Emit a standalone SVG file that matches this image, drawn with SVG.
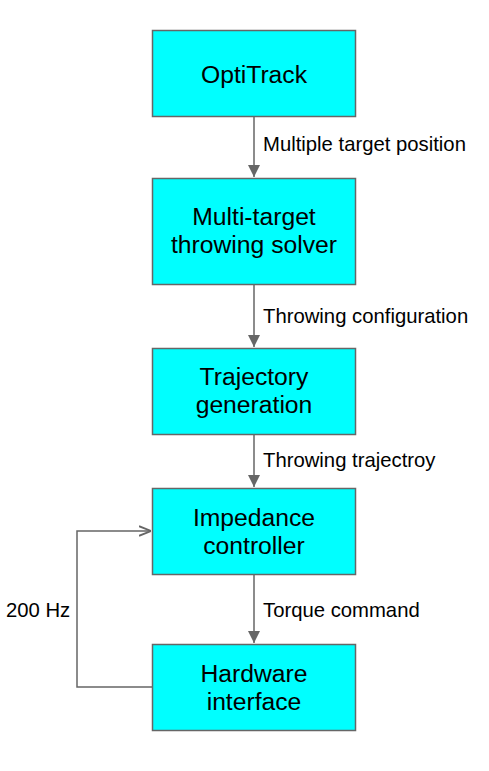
<svg xmlns="http://www.w3.org/2000/svg" width="489" height="771" viewBox="0 0 489 771">
<style>
.box{fill:#00ffff;stroke:#666666;stroke-width:1.5}
.nt{font-family:"Liberation Sans",Arial,sans-serif;font-size:24.7px;fill:#000;text-anchor:middle}
.et{font-family:"Liberation Sans",Arial,sans-serif;font-size:20.3px;fill:#000}
.ln{fill:none;stroke:#666666;stroke-width:1.5}
</style>
<defs>
<marker id="ah" markerWidth="12" markerHeight="16" refX="10" refY="5" orient="auto" markerUnits="userSpaceOnUse" viewBox="0 0 10 10">
<path d="M0,0 L10,5 L0,10 Z" fill="#666666"/>
</marker>
<marker id="oa" markerWidth="12" markerHeight="12" refX="10" refY="5" orient="auto" markerUnits="userSpaceOnUse" viewBox="0 0 10 10">
<path d="M0,1 L10,5 L0,9" fill="none" stroke="#666666" stroke-width="1.5"/>
</marker>
</defs>
<g id="connectors">
<line class="ln" x1="254" y1="116" x2="254" y2="177" marker-end="url(#ah)"/>
<line class="ln" x1="254" y1="284" x2="254" y2="347" marker-end="url(#ah)"/>
<line class="ln" x1="254" y1="434" x2="254" y2="487" marker-end="url(#ah)"/>
<line class="ln" x1="254" y1="574" x2="254" y2="643" marker-end="url(#ah)"/>
<polyline class="ln" points="153,687 77,687 77,531 151,531" marker-end="url(#oa)"/>
<text class="et" x="263" y="151">Multiple target position</text>
<text class="et" x="263" y="323">Throwing configuration</text>
<text class="et" x="263" y="467">Throwing trajectroy</text>
<text class="et" x="263" y="617">Torque command</text>
<text class="et" x="6" y="617">200 Hz</text>
</g>
<g id="optitrack">
<rect class="box" x="152.5" y="30.5" width="203" height="86"/>
<text class="nt" x="254" y="82.5">OptiTrack</text>
</g>
<g id="solver">
<rect class="box" x="152.5" y="178.5" width="203" height="106"/>
<text class="nt" x="254" y="224.5">Multi-target</text>
<text class="nt" x="254" y="253">throwing solver</text>
</g>
<g id="trajectory">
<rect class="box" x="152.5" y="348.5" width="203" height="86"/>
<text class="nt" x="254" y="384.5">Trajectory</text>
<text class="nt" x="254" y="413">generation</text>
</g>
<g id="impedance">
<rect class="box" x="152.5" y="488.5" width="203" height="86"/>
<text class="nt" x="254" y="525.5">Impedance</text>
<text class="nt" x="254" y="554">controller</text>
</g>
<g id="hardware">
<rect class="box" x="152.5" y="644.5" width="203" height="86"/>
<text class="nt" x="254" y="681.5">Hardware</text>
<text class="nt" x="254" y="710">interface</text>
</g>
</svg>
